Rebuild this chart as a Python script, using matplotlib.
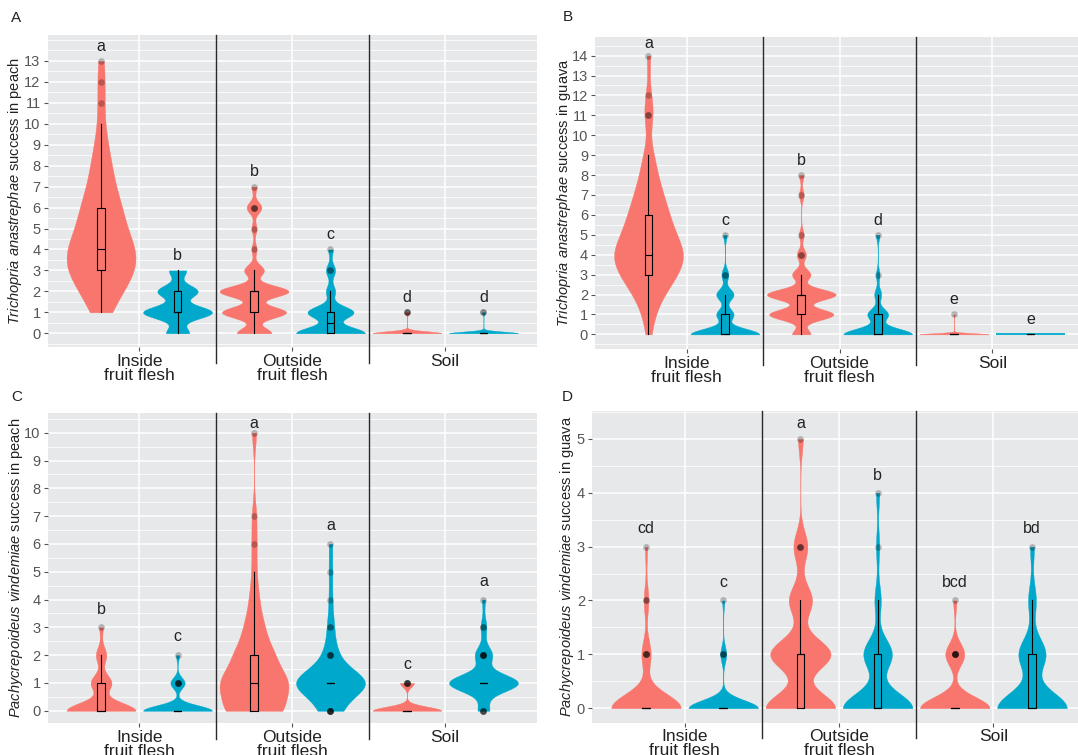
import numpy as np
import matplotlib
matplotlib.use("Agg")
import matplotlib.pyplot as plt
from matplotlib.ticker import MultipleLocator

plt.rcParams['font.family'] = ['Liberation Sans', 'DejaVu Sans']
plt.rcParams['mathtext.fontset'] = 'custom'
plt.rcParams['mathtext.it'] = 'Liberation Sans:italic'
plt.rcParams['mathtext.rm'] = 'Liberation Sans'
plt.rcParams['mathtext.bf'] = 'Liberation Sans:bold'

# ---------------- data ----------------
groups = ["Inside\nfruit flesh", "Outside\nfruit flesh", "Soil"]

# counts of replicates with outcome 0, 1, 2, ... (index = outcome value)
# each panel: [inside, outside, soil] for the pink and for the blue series
A_pink = [[0, 3, 6, 10, 10, 7, 6, 4, 3, 2, 1, 1, 1, 1],
          [7, 13, 14, 4, 1, 1, 3, 1],
          [40, 3]]
A_blue = [[4, 12, 7, 3],
          [15, 10, 2, 2, 1],
          [40, 2]]
A_letters = ['a', 'b', 'b', 'c', 'd', 'd']

B_pink = [[1, 2, 5, 10, 13, 9, 7, 5, 3, 2, 0, 2, 1, 0, 1],
          [4, 14, 15, 4, 2, 1, 0, 1, 1],
          [40, 1]]
B_blue = [[20, 5, 5, 2, 0, 1],
          [20, 6, 2, 1, 0, 1],
          [40]]
B_letters = ['a', 'c', 'b', 'd', 'e', 'e']

C_pink = [[20, 6, 3, 1],
          [12, 14, 8, 4, 2, 1, 1, 1, 0, 0, 1],
          [25, 5]]
C_blue = [[24, 5, 1],
          [6, 22, 4, 2, 1, 1, 1],
          [4, 24, 6, 2, 1]]
C_letters = ['b', 'c', 'a', 'a', 'c', 'a']

D_pink = [[30, 4, 2, 1],
          [15, 13, 5, 3, 0, 1],
          [22, 6, 1]]
D_blue = [[35, 3, 1],
          [22, 9, 2, 1, 1],
          [18, 7, 2, 1]]
D_letters = ['cd', 'c', 'a', 'b', 'bcd', 'bd']

ylabels = [r"$\mathit{Trichopria\ anastrephae}$ success in peach",
           r"$\mathit{Trichopria\ anastrephae}$ success in guava",
           r"$\mathit{Pachycrepoideus\ vindemiae}$ success in peach",
           r"$\mathit{Pachycrepoideus\ vindemiae}$ success in guava"]
panel_tags = ['A', 'B', 'C', 'D']
ymax_ticks = [13, 14, 10, 5]

# ---------------- style ----------------
PINK = '#F8766D'
BLUE = '#00A9CB'
BG = '#E6E8EA'
ADJUST = 0.85  # bandwidth adjustment of the violins

W, H = 1078, 755
# panel rectangles in pixels: left, right, top, bottom
rects = [(47.5, 537, 35, 347.3),
         (595, 1084, 36.7, 349.3),
         (47.5, 537, 412.7, 723.3),
         (592, 1086, 411, 722.7)]
ylims = [(-0.67, 14.24), (-0.75, 14.95), (-0.45, 10.72), (-0.27, 5.52)]
letter_off = [0.7, 0.74, 0.66, 0.33]
letter_cap = [13.9, 14.6, 10.34, 5.28]
ylab_x = [15.5, 564, 16.5, 567.5]
tag_pos = [(16.5, 18), (567.5, 17), (16.5, 397), (567.5, 397)]


def nrd0_factor(kde):
    x = np.asarray(kde.dataset).ravel()
    sd = x.std(ddof=1)
    q25, q75 = np.percentile(x, [25, 75])
    lo = min(sd, (q75 - q25) / 1.34)
    if lo <= 0:
        lo = sd
    bw = 0.9 * lo * len(x) ** -0.2 * ADJUST
    return bw / sd


fig = plt.figure(figsize=(W / 100, H / 100), dpi=100)

panels = [(A_pink, A_blue, A_letters), (B_pink, B_blue, B_letters),
          (C_pink, C_blue, C_letters), (D_pink, D_blue, D_letters)]

for p, (pinks, blues, letters) in enumerate(panels):
    l, r, t, b = rects[p]
    ax = fig.add_axes([l / W, 1 - b / H, (r - l) / W, (b - t) / H])
    ax.set_facecolor(BG)
    ax.set_xlim(0.4, 3.6)
    ax.set_ylim(*ylims[p])
    for s in ax.spines.values():
        s.set_visible(False)
    ax.set_axisbelow(True)
    ax.set_yticks(np.arange(0, ymax_ticks[p] + 1))
    ax.yaxis.set_minor_locator(MultipleLocator(0.5))
    ax.set_xticks([1, 2, 3])
    ax.set_xticklabels(groups, linespacing=0.95)
    ax.grid(which='major', color='white', lw=1.1)
    ax.grid(which='minor', axis='y', color='white', lw=0.55)
    ax.tick_params(axis='both', which='major', length=3, width=0.8, color='#555555')
    ax.tick_params(axis='both', which='minor', length=0)
    ax.tick_params(axis='y', labelsize=10.5, labelcolor='#555555', pad=2)
    ax.tick_params(axis='x', labelsize=12.5, labelcolor='#222222', pad=1.5)

    k = 0
    for gi in range(3):
        for si, (counts, color) in enumerate(((pinks[gi], PINK), (blues[gi], BLUE))):
            vals = np.repeat(np.arange(len(counts)), counts).astype(float)
            pos = gi + 1 + (-0.25 if si == 0 else 0.25)
            if np.ptp(vals) == 0:
                ax.hlines(vals[0], pos - 0.225, pos + 0.225, color=color, lw=1.3, zorder=2)
            else:
                vp = ax.violinplot([vals], positions=[pos], widths=0.45,
                                   showextrema=False, bw_method=nrd0_factor, points=500)
                for body in vp['bodies']:
                    body.set_facecolor(color)
                    body.set_edgecolor(color)
                    body.set_linewidth(0.3)
                    body.set_alpha(1)
                    body.set_zorder(2)
            ax.boxplot([vals], positions=[pos], widths=0.05, manage_ticks=False,
                       showcaps=False, patch_artist=False,
                       boxprops=dict(color='black', lw=0.8),
                       whiskerprops=dict(color='black', lw=0.8),
                       medianprops=dict(color='black', lw=0.8),
                       flierprops=dict(marker='o', markerfacecolor='black',
                                       markeredgecolor='none', markersize=4.8, alpha=0.25),
                       zorder=3)
            ytxt = min(vals.max() + letter_off[p], letter_cap[p])
            ax.text(pos, ytxt, letters[k], ha='center', va='center',
                    fontsize=11.5, color='#222222', zorder=4)
            k += 1

    for xv in (1.5, 2.5):
        ax.axvline(xv, ymin=-0.05, ymax=1, color='#2a2a2a', lw=1.0, clip_on=False, zorder=5)

    ax.text((ylab_x[p] - l) / (r - l), 0.5, ylabels[p], rotation=90,
            transform=ax.transAxes, ha='center', va='center', fontsize=10.5,
            color='#222222')
    fig.text(tag_pos[p][0] / W, 1 - tag_pos[p][1] / H, panel_tags[p],
             ha='center', va='center', fontsize=11, color='#222222')

fig.savefig('out.png', dpi=100)
